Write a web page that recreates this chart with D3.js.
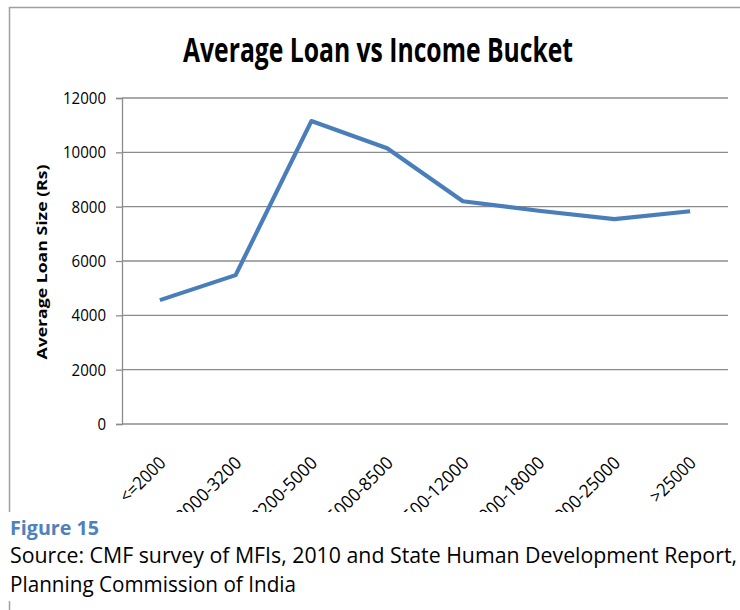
<!DOCTYPE html>
<html>
<head>
<meta charset="utf-8">
<script src="https://cdn.jsdelivr.net/npm/d3@7"></script>
<style>
  body { margin: 0; background: #fff; }
  svg text { font-family: "Open Sans", sans-serif; }
</style>
</head>
<body>
<svg id="chart" width="740" height="610"></svg>
<script>
// data
const buckets = ["<=2000", "2000-3200", "3200-5000", "5000-8500", "8500-12000", "12000-18000", "18000-25000", ">25000"];
const avgLoan = [4560, 5480, 11150, 10150, 8200, 7850, 7540, 7830];
const yTicks = [0, 2000, 4000, 6000, 8000, 10000, 12000];

const svg = d3.select("svg#chart");
const plot = {left: 122, right: 728, top: 98, bottom: 424};

// chart frame (left + top edges only show)
svg.append("path")
    .attr("d", "M9.5,512 L9.5,7.5 L740,7.5")
    .attr("fill", "none")
    .attr("stroke", "#a0a0a0")
    .attr("stroke-width", 1.5);
svg.append("line")
    .attr("x1", 9.5).attr("x2", 9.5)
    .attr("y1", 601).attr("y2", 610)
    .attr("stroke", "#a0a0a0")
    .attr("stroke-width", 1.5);

const x = d3.scalePoint().domain(buckets).range([plot.left, plot.right]).padding(0.5);
const y = d3.scaleLinear().domain([0, 12000]).range([plot.bottom, plot.top]);

// title
svg.append("text")
    .attr("x", 183).attr("y", 62)
    .attr("textLength", 390)
    .attr("lengthAdjust", "spacingAndGlyphs")
    .style("font-size", "34px")
    .style("font-weight", "bold")
    .text("Average Loan vs Income Bucket");

// gridlines + y axis
let yAxis = d3.axisLeft(y)
    .tickValues(yTicks)
    .tickSize(6)
    .tickPadding(10)
    .tickFormat(d3.format("d"));
let yG = svg.append("g")
    .attr("transform", `translate(${plot.left},0)`)
    .call(yAxis);
yG.select(".domain").attr("stroke", "#8c8c8c").attr("stroke-width", 1.3);
yG.selectAll(".tick line").attr("stroke", "#8c8c8c").attr("stroke-width", 1.3);
yG.selectAll(".tick text")
    .style("font-size", "17px")
    .style("font-family", "'Open Sans', sans-serif")
    .attr("textLength", d => String(d).length * 8.6)
    .attr("lengthAdjust", "spacingAndGlyphs")
    .attr("fill", "#000");

svg.append("g")
    .selectAll("line")
    .data(yTicks)
    .join("line")
    .attr("x1", plot.left)
    .attr("x2", plot.right)
    .attr("y1", d => y(d))
    .attr("y2", d => y(d))
    .attr("stroke", "#8c8c8c")
    .attr("stroke-width", 1.3);

// y axis title
svg.append("text")
    .attr("transform", "translate(47,262) rotate(-90)")
    .attr("text-anchor", "middle")
    .attr("textLength", 195)
    .attr("lengthAdjust", "spacingAndGlyphs")
    .style("font-size", "14px")
    .style("font-weight", "bold")
    .text("Average Loan Size (Rs)");

// x labels, clipped at the bottom of the chart box
svg.append("defs").append("clipPath").attr("id", "xclip")
    .append("rect").attr("x", 0).attr("y", 430).attr("width", 740).attr("height", 82);

svg.append("g")
    .attr("clip-path", "url(#xclip)")
    .selectAll("text")
    .data(buckets)
    .join("text")
    .attr("transform", d => `translate(${x(d) + 7},464) rotate(-45)`)
    .attr("text-anchor", "end")
    .attr("textLength", d => d.length * 9.4)
    .attr("lengthAdjust", "spacingAndGlyphs")
    .style("font-size", "18px")
    .text(d => d);

// the line
const line = d3.line()
    .x((d, i) => x(buckets[i]))
    .y(d => y(d));
svg.append("path")
    .datum(avgLoan)
    .attr("d", line)
    .attr("fill", "none")
    .attr("stroke", "#4a7ebb")
    .attr("stroke-width", 4.2)
    .attr("stroke-linejoin", "round");

// caption
svg.append("text")
    .attr("x", 10).attr("y", 535)
    .attr("textLength", 89)
    .attr("lengthAdjust", "spacingAndGlyphs")
    .style("font-size", "20px")
    .style("font-weight", "bold")
    .attr("fill", "#4f81bd")
    .text("Figure 15");
svg.append("text")
    .attr("x", 10).attr("y", 563)
    .attr("textLength", 727)
    .attr("lengthAdjust", "spacingAndGlyphs")
    .style("font-size", "21px")
    .text("Source: CMF survey of MFIs, 2010 and State Human Development Report,");
svg.append("text")
    .attr("x", 10).attr("y", 592)
    .attr("textLength", 286)
    .attr("lengthAdjust", "spacingAndGlyphs")
    .style("font-size", "21px")
    .text("Planning Commission of India");
</script>
</body>
</html>
